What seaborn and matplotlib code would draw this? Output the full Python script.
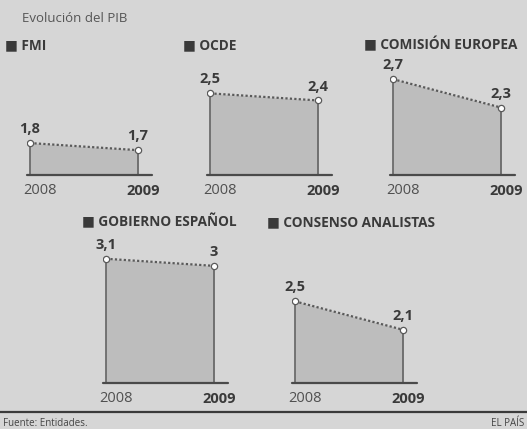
import seaborn as sns
import pandas as pd
import matplotlib.pyplot as plt

# Data (PIB growth forecasts, %)
organismos = ["FMI", "OCDE", "COMISIÓN EUROPEA", "GOBIERNO ESPAÑOL", "CONSENSO ANALISTAS"]
years = [2008, 2009]
pib_2008 = [1.8, 2.5, 2.7, 3.1, 2.5]
pib_2009 = [1.7, 2.4, 2.3, 3.0, 2.1]

sns.set_theme(style="white")
plt.rcParams['font.family'] = ['Open Sans', 'DejaVu Sans']

W, H = 527, 429
BG = '#d6d6d6'
FILL = '#bdbdbd'
EDGE = '#5a5a5a'
TXT = '#3a3a3a'

fig = plt.figure(figsize=(W / 100, H / 100), dpi=100, facecolor=BG)

# panel layout in pixels: x of the 2008 point, baseline row, title x, title row
x0s = [30, 210, 393, 106, 295]
rows = [175, 175, 175, 383, 383]
title_x = [5, 183, 364, 82, 267]
title_y = [45, 45, 45, 222, 222]

ymin, ymax = 1.35, 3.45
px_per_unit = 71
span = 108  # pixels between 2008 and 2009


def fmt(v):
    s = ('%.1f' % v).replace('.', ',')
    return s[:-2] if s.endswith(',0') else s


for i, org in enumerate(organismos):
    left = x0s[i] - 3
    width = span + 17
    height = (ymax - ymin) * px_per_unit
    ax = fig.add_axes([left / W, 1 - rows[i] / H, width / W, height / H])
    ax.set_xlim(2008 - 3 / span, 2009 + 14 / span)
    ax.set_ylim(ymin, ymax)
    ax.axis('off')

    df = pd.DataFrame({'year': years, 'pib': [pib_2008[i], pib_2009[i]]})
    ax.fill_between(df['year'], ymin, df['pib'], color=FILL, lw=0)
    ax.vlines(df['year'], ymin, df['pib'], color=EDGE, lw=1.1)
    ax.axhline(ymin, color='#4a4a4a', lw=1.6, clip_on=False)
    sns.lineplot(data=df, x='year', y='pib', ax=ax, color=EDGE, linestyle=(0, (1, 1)),
                 lw=1.6, marker='o', markersize=4.5, markerfacecolor='white',
                 markeredgecolor=EDGE, markeredgewidth=0.9)

    for yr, v in zip(df['year'], df['pib']):
        ax.annotate(fmt(v), (yr, v), xytext=(0, 10), textcoords='offset points',
                    ha='center', va='center', fontsize=10.5, fontweight='bold', color=TXT)
    ax.annotate('2008', (2008, ymin), xytext=(7, -11.5), textcoords='offset points',
                ha='center', va='center', fontsize=10.5, color='#505050')
    ax.annotate('2009', (2009, ymin), xytext=(4, -11.5), textcoords='offset points',
                ha='center', va='center', fontsize=10.5, fontweight='bold', color=TXT)

    fig.text(title_x[i] / W, 1 - title_y[i] / H, '■ ' + org, ha='left', va='center',
             fontsize=9.8, fontweight='bold', color=TXT)

fig.text(22 / W, 1 - 18 / H, 'Evolución del PIB', ha='left', va='center',
         fontsize=9.5, color='#555555')

# footer rule and credits
fig.add_artist(plt.Line2D([0, 1], [1 - 412 / H, 1 - 412 / H], color='#3a3a3a', lw=1.6))
fig.text(3 / W, 1 - 424 / H, 'Fuente: Entidades.', ha='left', va='center',
         fontsize=7, color='#444444')
fig.text(524 / W, 1 - 424 / H, 'EL PAÍS', ha='right', va='center',
         fontsize=7, color='#444444')

fig.savefig('out.png', dpi=100, facecolor=BG)
